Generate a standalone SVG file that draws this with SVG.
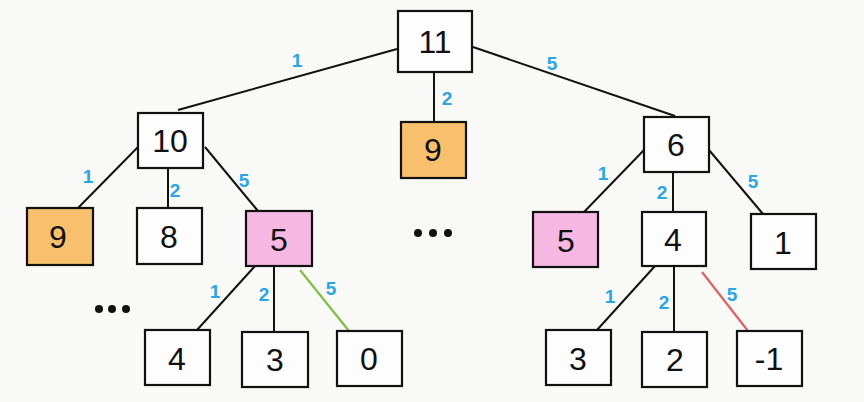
<svg xmlns="http://www.w3.org/2000/svg" width="864" height="402" viewBox="0 0 864 402">
<style>
.bx{fill:#fdfdfd;stroke:#111;stroke-width:2.2}
.or{fill:#f8c06c}
.pk{fill:#f6b8e2}
.num{font-family:"Liberation Sans",Arial,sans-serif;font-size:32px;fill:#111;text-anchor:middle;dominant-baseline:central}
.lbl{font-family:"Liberation Sans",Arial,sans-serif;font-size:19px;font-weight:bold;fill:#2aa6e4;text-anchor:middle;dominant-baseline:central}
.e{stroke:#111;stroke-width:2;fill:none}
</style>
<rect width="864" height="402" fill="#f9f9f7"/>
<g id="connectors">
<line class="e" x1="397" y1="49" x2="178" y2="110"/>
<line class="e" x1="473" y1="47" x2="675" y2="116"/>
<line class="e" x1="434" y1="72" x2="434" y2="122"/>
<line class="e" x1="138" y1="147" x2="78" y2="208"/>
<line class="e" x1="168" y1="168" x2="168" y2="208"/>
<line class="e" x1="205" y1="147" x2="258" y2="211"/>
<line class="e" x1="644" y1="150" x2="584" y2="212"/>
<line class="e" x1="673" y1="172" x2="673" y2="212"/>
<line class="e" x1="709" y1="150" x2="763" y2="214"/>
<line class="e" x1="255" y1="266" x2="197" y2="330"/>
<line class="e" x1="274" y1="266" x2="274" y2="332"/>
<line x1="300" y1="270" x2="349" y2="331" stroke="#7cc142" stroke-width="2.2"/>
<line class="e" x1="655" y1="266" x2="597" y2="330"/>
<line class="e" x1="674" y1="266" x2="674" y2="332"/>
<line x1="702" y1="272" x2="748" y2="331" stroke="#e0615f" stroke-width="2.2"/>
<text class="lbl" x="297" y="60">1</text>
<text class="lbl" x="552" y="63">5</text>
<text class="lbl" x="447" y="98">2</text>
<text class="lbl" x="88" y="176">1</text>
<text class="lbl" x="175" y="190">2</text>
<text class="lbl" x="244" y="180">5</text>
<text class="lbl" x="603" y="173">1</text>
<text class="lbl" x="662" y="192">2</text>
<text class="lbl" x="753" y="181">5</text>
<text class="lbl" x="215" y="291">1</text>
<text class="lbl" x="264" y="294">2</text>
<text class="lbl" x="331" y="288">5</text>
<text class="lbl" x="610" y="296">1</text>
<text class="lbl" x="664" y="302">2</text>
<text class="lbl" x="732" y="294">5</text>
</g>
<g id="n11"><rect class="bx" x="398" y="11" width="74" height="61"/><text class="num" x="435" y="42">11</text></g>
<g id="n9c"><rect class="bx or" x="401" y="122" width="65" height="56"/><text class="num" x="433" y="150">9</text></g>
<g id="n10"><rect class="bx" x="138" y="113" width="65" height="55"/><text class="num" x="170" y="141">10</text></g>
<g id="n6"><rect class="bx" x="644" y="117" width="65" height="55"/><text class="num" x="676" y="145">6</text></g>
<g id="n9l"><rect class="bx or" x="27" y="208" width="66" height="57"/><text class="num" x="58" y="237">9</text></g>
<g id="n8"><rect class="bx" x="137" y="208" width="65" height="56"/><text class="num" x="169" y="237">8</text></g>
<g id="n5l"><rect class="bx pk" x="246" y="211" width="66" height="55"/><text class="num" x="279" y="240">5</text></g>
<g id="n5r"><rect class="bx pk" x="533" y="212" width="65" height="55"/><text class="num" x="566" y="241">5</text></g>
<g id="n4r"><rect class="bx" x="642" y="212" width="64" height="54"/><text class="num" x="673" y="240">4</text></g>
<g id="n1"><rect class="bx" x="751" y="214" width="65" height="55"/><text class="num" x="783" y="243">1</text></g>
<g id="n4l"><rect class="bx" x="145" y="330" width="65" height="55"/><text class="num" x="177" y="359">4</text></g>
<g id="n3l"><rect class="bx" x="242" y="332" width="66" height="55"/><text class="num" x="275" y="360">3</text></g>
<g id="n0"><rect class="bx" x="337" y="331" width="65" height="55"/><text class="num" x="369" y="359">0</text></g>
<g id="n3r"><rect class="bx" x="546" y="330" width="65" height="55"/><text class="num" x="578" y="359">3</text></g>
<g id="n2"><rect class="bx" x="642" y="332" width="65" height="55"/><text class="num" x="675" y="360">2</text></g>
<g id="nm1"><rect class="bx" x="737" y="331" width="65" height="55"/><text class="num" x="769" y="359">-1</text></g>
<g id="dots1" fill="#111"><circle cx="418" cy="233" r="4"/><circle cx="433" cy="233" r="4"/><circle cx="448" cy="233" r="4"/></g>
<g id="dots2" fill="#111"><circle cx="99" cy="309" r="4"/><circle cx="112" cy="309" r="4"/><circle cx="126" cy="309" r="4"/></g>
</svg>
